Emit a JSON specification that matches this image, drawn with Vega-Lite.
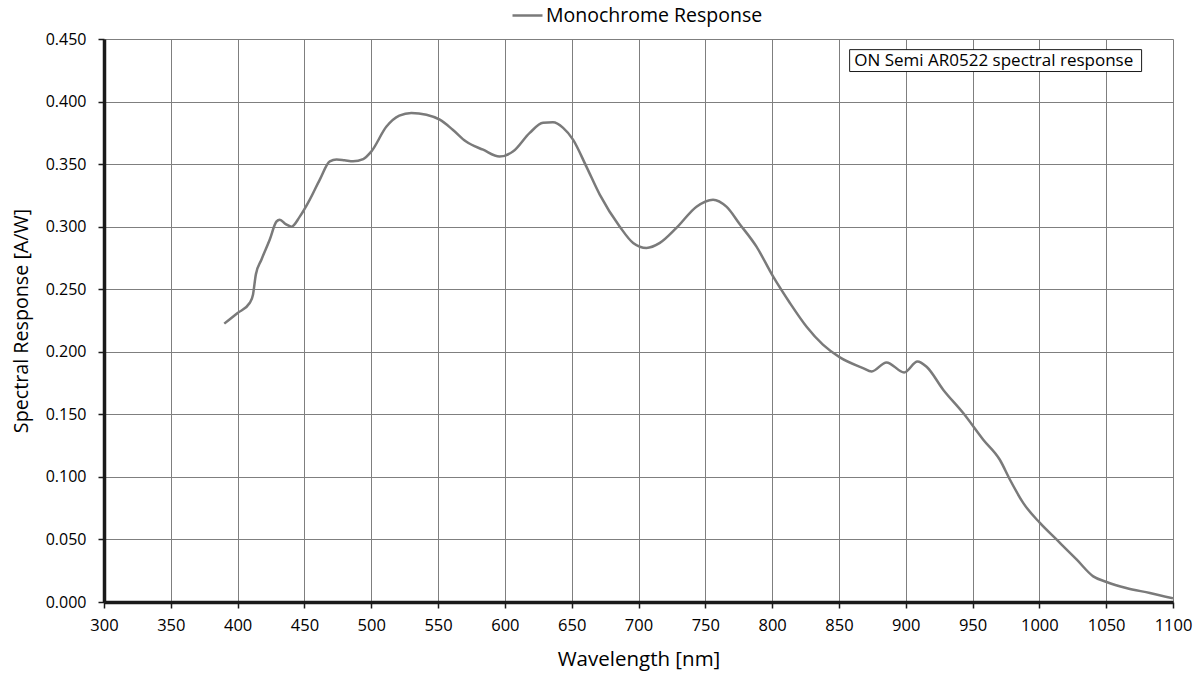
{
  "$schema": "https://vega.github.io/schema/vega-lite/v6.json",
  "width": 1069,
  "height": 563,
  "autosize": {"type": "none"},
  "padding": {"left": 104, "top": 39, "right": 30, "bottom": 75},
  "background": "white",
  "config": {
    "view": {"stroke": null},
    "font": "Open Sans",
    "axis": {"labelFont": "Open Sans", "titleFont": "Open Sans", "labelColor": "#000", "titleColor": "#000", "titleFontWeight": "normal"}
  },
  "datasets": {
    "curve": [
      {"wl": 390, "resp": 0.2225, "series": "Monochrome Response"},
      {"wl": 400, "resp": 0.231, "series": "Monochrome Response"},
      {"wl": 409, "resp": 0.239, "series": "Monochrome Response"},
      {"wl": 411.5, "resp": 0.2456, "series": "Monochrome Response"},
      {"wl": 413.6, "resp": 0.2616, "series": "Monochrome Response"},
      {"wl": 417.8, "resp": 0.2736, "series": "Monochrome Response"},
      {"wl": 424, "resp": 0.2896, "series": "Monochrome Response"},
      {"wl": 429, "resp": 0.304, "series": "Monochrome Response"},
      {"wl": 431.5, "resp": 0.3056, "series": "Monochrome Response"},
      {"wl": 436, "resp": 0.302, "series": "Monochrome Response"},
      {"wl": 440.3, "resp": 0.3, "series": "Monochrome Response"},
      {"wl": 446.5, "resp": 0.308, "series": "Monochrome Response"},
      {"wl": 454, "resp": 0.3216, "series": "Monochrome Response"},
      {"wl": 461.5, "resp": 0.3376, "series": "Monochrome Response"},
      {"wl": 469, "resp": 0.3522, "series": "Monochrome Response"},
      {"wl": 474, "resp": 0.3536, "series": "Monochrome Response"},
      {"wl": 480, "resp": 0.353, "series": "Monochrome Response"},
      {"wl": 486.4, "resp": 0.3522, "series": "Monochrome Response"},
      {"wl": 494, "resp": 0.354, "series": "Monochrome Response"},
      {"wl": 500, "resp": 0.36, "series": "Monochrome Response"},
      {"wl": 511.4, "resp": 0.38, "series": "Monochrome Response"},
      {"wl": 521, "resp": 0.3887, "series": "Monochrome Response"},
      {"wl": 530, "resp": 0.3909, "series": "Monochrome Response"},
      {"wl": 541.3, "resp": 0.3895, "series": "Monochrome Response"},
      {"wl": 551.3, "resp": 0.3855, "series": "Monochrome Response"},
      {"wl": 561, "resp": 0.3775, "series": "Monochrome Response"},
      {"wl": 571, "resp": 0.368, "series": "Monochrome Response"},
      {"wl": 583.7, "resp": 0.3615, "series": "Monochrome Response"},
      {"wl": 596, "resp": 0.356, "series": "Monochrome Response"},
      {"wl": 606, "resp": 0.36, "series": "Monochrome Response"},
      {"wl": 618.6, "resp": 0.375, "series": "Monochrome Response"},
      {"wl": 628.6, "resp": 0.383, "series": "Monochrome Response"},
      {"wl": 636, "resp": 0.3834, "series": "Monochrome Response"},
      {"wl": 643.6, "resp": 0.379, "series": "Monochrome Response"},
      {"wl": 651, "resp": 0.3696, "series": "Monochrome Response"},
      {"wl": 661, "resp": 0.348, "series": "Monochrome Response"},
      {"wl": 671, "resp": 0.3256, "series": "Monochrome Response"},
      {"wl": 686, "resp": 0.3, "series": "Monochrome Response"},
      {"wl": 696, "resp": 0.287, "series": "Monochrome Response"},
      {"wl": 706, "resp": 0.283, "series": "Monochrome Response"},
      {"wl": 716, "resp": 0.287, "series": "Monochrome Response"},
      {"wl": 728.4, "resp": 0.299, "series": "Monochrome Response"},
      {"wl": 743.4, "resp": 0.316, "series": "Monochrome Response"},
      {"wl": 755.8, "resp": 0.3216, "series": "Monochrome Response"},
      {"wl": 765.8, "resp": 0.316, "series": "Monochrome Response"},
      {"wl": 775.8, "resp": 0.302, "series": "Monochrome Response"},
      {"wl": 788.3, "resp": 0.284, "series": "Monochrome Response"},
      {"wl": 800.8, "resp": 0.26, "series": "Monochrome Response"},
      {"wl": 813.3, "resp": 0.239, "series": "Monochrome Response"},
      {"wl": 825.8, "resp": 0.22, "series": "Monochrome Response"},
      {"wl": 838, "resp": 0.2057, "series": "Monochrome Response"},
      {"wl": 850.7, "resp": 0.1955, "series": "Monochrome Response"},
      {"wl": 868, "resp": 0.187, "series": "Monochrome Response"},
      {"wl": 874.5, "resp": 0.1843, "series": "Monochrome Response"},
      {"wl": 885.6, "resp": 0.1915, "series": "Monochrome Response"},
      {"wl": 898.8, "resp": 0.1835, "series": "Monochrome Response"},
      {"wl": 908.8, "resp": 0.1923, "series": "Monochrome Response"},
      {"wl": 915.6, "resp": 0.188, "series": "Monochrome Response"},
      {"wl": 928, "resp": 0.1697, "series": "Monochrome Response"},
      {"wl": 943, "resp": 0.151, "series": "Monochrome Response"},
      {"wl": 958, "resp": 0.1297, "series": "Monochrome Response"},
      {"wl": 970.4, "resp": 0.1137, "series": "Monochrome Response"},
      {"wl": 978, "resp": 0.0977, "series": "Monochrome Response"},
      {"wl": 988, "resp": 0.079, "series": "Monochrome Response"},
      {"wl": 1000.4, "resp": 0.0632, "series": "Monochrome Response"},
      {"wl": 1013, "resp": 0.0498, "series": "Monochrome Response"},
      {"wl": 1028, "resp": 0.0338, "series": "Monochrome Response"},
      {"wl": 1040.3, "resp": 0.0205, "series": "Monochrome Response"},
      {"wl": 1050.3, "resp": 0.016, "series": "Monochrome Response"},
      {"wl": 1065, "resp": 0.0112, "series": "Monochrome Response"},
      {"wl": 1082.7, "resp": 0.0072, "series": "Monochrome Response"},
      {"wl": 1100, "resp": 0.0029, "series": "Monochrome Response"}
    ],
    "note": [
      {"x1": 858, "x2": 1076.5, "y1": 0.4415, "y2": 0.4240, "tx": 861.5, "ty": 0.4328, "label": "ON Semi AR0522 spectral response"}
    ]
  },
  "layer": [
    {
      "data": {"name": "curve"},
      "mark": {"type": "line", "interpolate": "monotone", "strokeWidth": 2.5, "clip": true},
      "encoding": {
        "x": {
          "field": "wl", "type": "quantitative",
          "scale": {"domain": [300, 1100], "nice": false, "zero": false},
          "axis": {
            "title": "Wavelength [nm]", "values": [300,350,400,450,500,550,600,650,700,750,800,850,900,950,1000,1050,1100],
            "format": "d", "labelFontSize": 16.5, "labelPadding": 9, "labelBaseline": "top", "labelFlush": false, "labelOverlap": false,
            "titleFontSize": 20.5, "titlePadding": 16,
            "grid": true, "gridColor": "#7f7f7f", "gridWidth": 1,
            "domainColor": "#1a1a1a", "domainWidth": 3.5,
            "tickColor": "#1a1a1a", "tickWidth": 1.5, "tickSize": 6
          }
        },
        "y": {
          "field": "resp", "type": "quantitative",
          "scale": {"domain": [0, 0.45], "nice": false},
          "axis": {
            "title": "Spectral Response [A/W]", "values": [0,0.05,0.1,0.15,0.2,0.25,0.3,0.35,0.4,0.45],
            "format": ".3f", "labelFontSize": 16, "labelPadding": 12, "labelFlush": false, "labelOverlap": false,
            "titleFontSize": 19.7, "titlePadding": 14,
            "grid": true, "gridColor": "#7f7f7f", "gridWidth": 1,
            "domainColor": "#1a1a1a", "domainWidth": 3.5,
            "tickColor": "#1a1a1a", "tickWidth": 1.5, "tickSize": 6
          }
        },
        "color": {
          "field": "series", "type": "nominal",
          "scale": {"range": ["#7a7a7a"]},
          "legend": {
            "title": null, "orient": "none", "legendX": 407, "legendY": -40,
            "symbolType": "stroke", "symbolSize": 900, "symbolStrokeWidth": 2.5,
            "labelFontSize": 19.5, "labelFont": "Open Sans", "labelColor": "#000", "labelOffset": 2, "labelLimit": 400
          }
        }
      }
    },
    {
      "data": {"name": "note"},
      "mark": {"type": "rect", "fill": "white", "stroke": "#1a1a1a", "strokeWidth": 1},
      "encoding": {
        "x": {"field": "x1", "type": "quantitative"},
        "x2": {"field": "x2"},
        "y": {"field": "y1", "type": "quantitative"},
        "y2": {"field": "y2"}
      }
    },
    {
      "data": {"name": "note"},
      "mark": {"type": "text", "align": "left", "baseline": "middle", "fontSize": 17, "font": "Open Sans", "color": "#000"},
      "encoding": {
        "x": {"field": "tx", "type": "quantitative"},
        "y": {"field": "ty", "type": "quantitative"},
        "text": {"field": "label"}
      }
    }
  ]
}
